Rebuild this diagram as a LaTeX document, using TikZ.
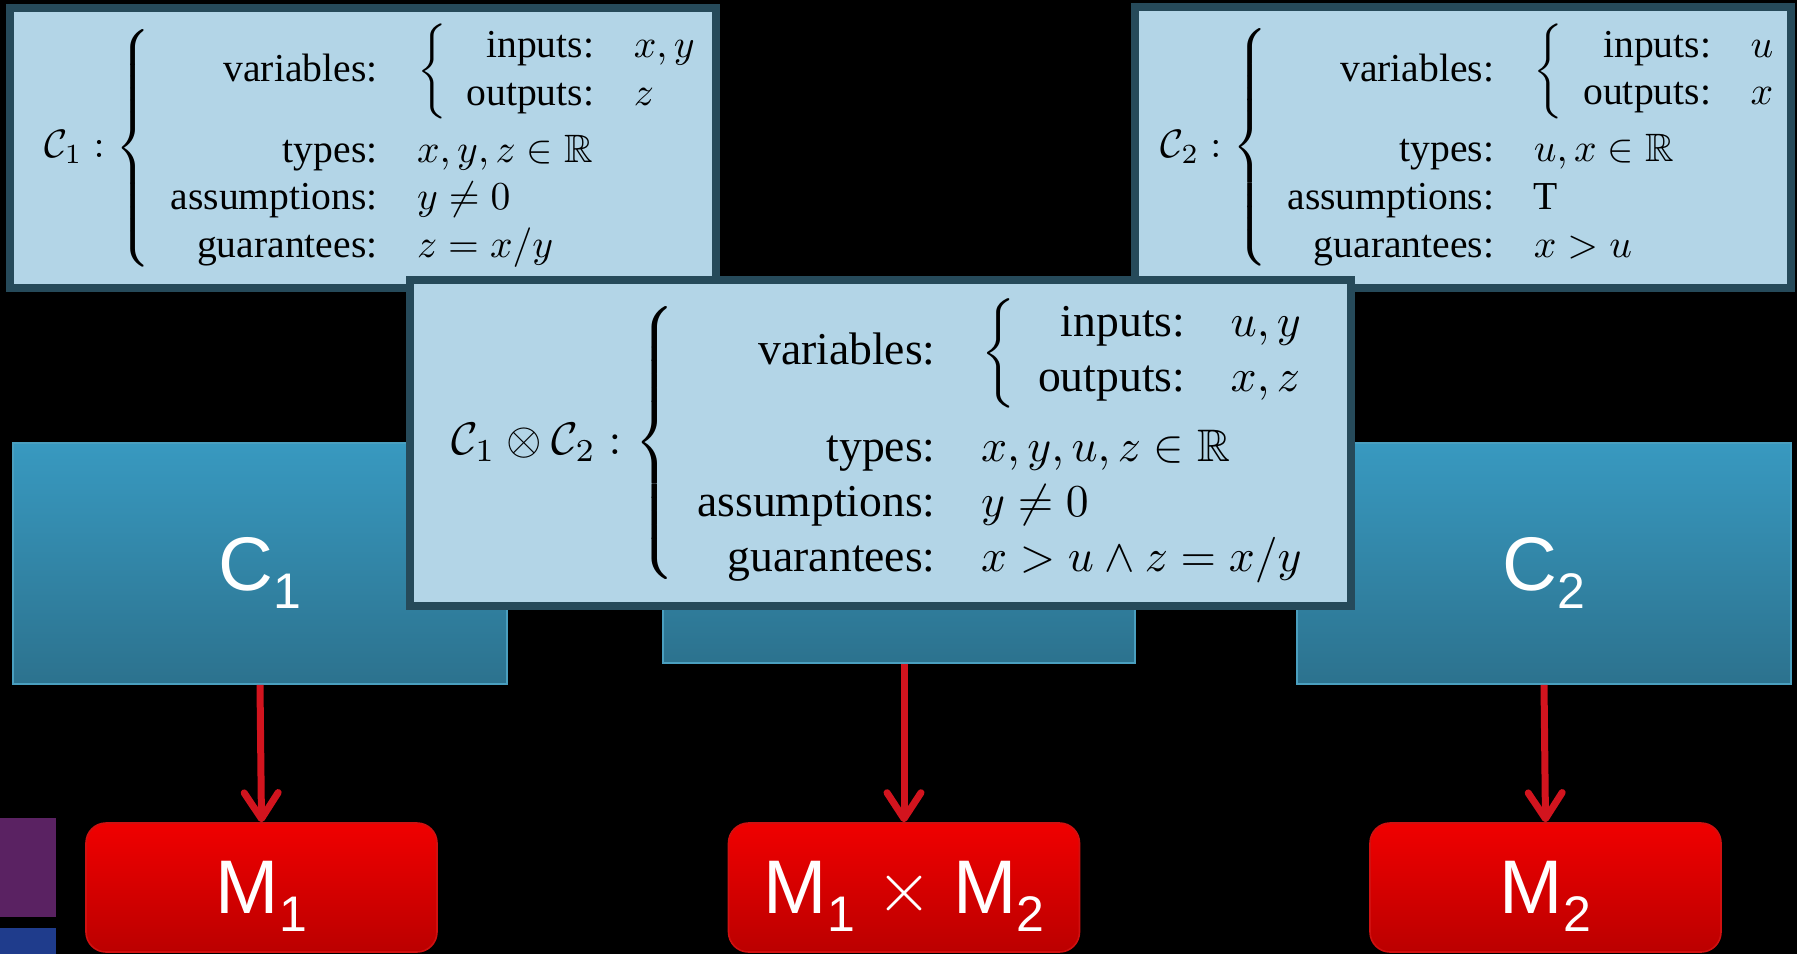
\documentclass[tikz,border=0pt]{standalone}
\usepackage{amsmath,amssymb}
\usepackage{graphicx}
\usepackage{fontspec}
\setmainfont{Liberation Serif}
\newfontfamily\slidefont{Liberation Sans}
\usepackage{tikz}
\usetikzlibrary{arrows.meta}

\newcommand{\lowidx}[1]{\raisebox{-9pt}{\fontsize{25}{25}\selectfont #1}}

\begin{document}
\begin{tikzpicture}[x=0.5pt,y=-0.5pt,
  contract/.style={draw=framecol,line width=4pt,fill=paleblue,inner sep=0pt},
  cblock/.style={draw=tealedge,line width=0.8pt,top color=tealtop,bottom color=tealbot,inner sep=0pt,text=white,text depth=0pt,font=\slidefont\fontsize{38}{40}\selectfont},
  mblock/.style={draw=redge,line width=0.8pt,rounded corners=10pt,top color=redtop,bottom color=redbot,minimum width=175.5pt,minimum height=64.5pt,inner sep=0pt,text=white,text depth=0pt,font=\slidefont\fontsize{38}{40}\selectfont},
  arr/.style={draw=arrowred,line width=3.5pt,-{Straight Barb[round,length=13pt,width=17pt]}}]
\definecolor{framecol}{HTML}{264A5A}
\definecolor{paleblue}{HTML}{B3D5E7}
\definecolor{tealtop}{HTML}{3899C0}
\definecolor{tealbot}{HTML}{2C728E}
\definecolor{tealedge}{HTML}{4A9FBF}
\definecolor{redtop}{HTML}{F00000}
\definecolor{redbot}{HTML}{BB0000}
\definecolor{redge}{HTML}{D01010}
\definecolor{arrowred}{HTML}{D2141E}
\definecolor{purplesq}{HTML}{5A2262}
\definecolor{bluesq}{HTML}{1F3C8C}
\path[use as bounding box,fill=black] (0,0) rectangle (1797,954);

% contracts
\node[contract,minimum width=353pt,minimum height=140pt] (k1) at (363,148) {\makebox[0pt]{\hspace*{31pt}\scalebox{1.98}{$\mathcal{C}_1 : \left\{\begin{array}{rl}
  \text{variables:} & \left\{\begin{array}{rl}\text{inputs:} & x,y\\ \text{outputs:} & z\end{array}\right.\\\noalign{\vskip 2.5pt}
  \text{types:} & x,y,z\in\mathbb{R}\\
  \text{assumptions:} & y\neq 0\\
  \text{guarantees:} & z=x/y
  \end{array}\right.$}}};
\node[contract,minimum width=328pt,minimum height=140.5pt] (k2) at (1463,147.5) {\makebox[0pt]{\hspace*{28.6pt}\scalebox{1.98}{$\mathcal{C}_2 : \left\{\begin{array}{rl}
  \text{variables:} & \left\{\begin{array}{rl}\text{inputs:} & u\\ \text{outputs:} & x\end{array}\right.\\\noalign{\vskip 2.5pt}
  \text{types:} & u,x\in\mathbb{R}\\
  \text{assumptions:} & \text{T}\\
  \text{guarantees:} & x>u
  \end{array}\right.$}}};

% components
\node[cblock,minimum width=247pt,minimum height=120.5pt] (c1) at (260,563.5) {C\lowidx{1}};
\node[cblock,minimum width=236pt,minimum height=110pt] (c12) at (899,553) {};
\node[cblock,minimum width=247pt,minimum height=120.5pt] (c2) at (1544,563.5) {C\lowidx{2}};

\node[contract,minimum width=470.5pt,minimum height=163pt] (k12) at (880.5,443) {\makebox[0pt]{\hspace*{24pt}\scalebox{2.28}{$\mathcal{C}_1\otimes\mathcal{C}_2 : \left\{\begin{array}{rl}
  \text{variables:} & \left\{\begin{array}{rl}\text{inputs:} & u,y\\ \text{outputs:} & x,z\end{array}\right.\\\noalign{\vskip 3.5pt}
  \text{types:} & x,y,u,z\in\mathbb{R}\\
  \text{assumptions:} & y\neq 0\\
  \text{guarantees:} & x>u\wedge z=x/y
  \end{array}\right.$}}};

% models
\node[mblock] (m1) at (261.5,887.5) {M\lowidx{1}};
\node[mblock] (m12) at (904,887.5) {M\lowidx{1} \raisebox{1pt}{\normalsize\scalebox{3.6}{$\times$}} M\lowidx{2}};
\node[mblock] (m2) at (1545.5,887.5) {M\lowidx{2}};

\draw[arr] (c1.south) -- (m1.north);
\draw[arr] (m12.north |- c12.south) -- (m12.north);
\draw[arr] (c2.south) -- (m2.north);

\fill[purplesq] (0,818) rectangle (56,917);
\fill[bluesq] (0,928) rectangle (56,954);
\end{tikzpicture}
\end{document}
